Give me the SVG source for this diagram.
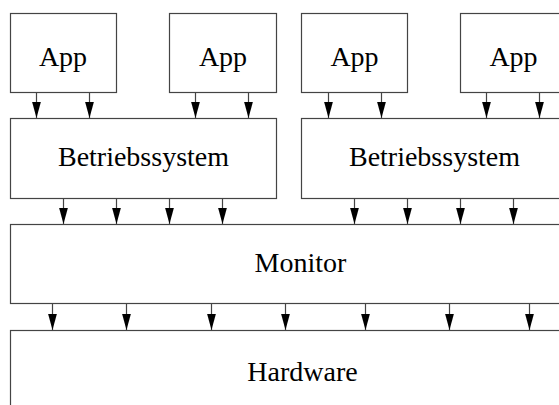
<svg xmlns="http://www.w3.org/2000/svg" width="559" height="405" viewBox="0 0 559 405">
  <style>
    .box { fill: #fff; stroke: #444; stroke-width: 1.2; }
    .lbl { font-family: "Liberation Serif", "Times New Roman", "DejaVu Serif", serif; font-size: 28px; fill: #000; text-anchor: middle; }
    .conn line { stroke: #444; stroke-width: 1.2; marker-end: url(#arrow); }
  </style>
  <defs>
    <!-- filled arrowhead pointing along the line direction -->
    <marker id="arrow" markerUnits="userSpaceOnUse" markerWidth="17" markerHeight="10" viewBox="0 0 17 10" refX="16.5" refY="5" orient="auto">
      <path d="M0 0.5 L16.5 5 L0 9.5 Z" fill="#000"/>
    </marker>
  </defs>
  <rect width="559" height="405" fill="#fff"/>

  <!-- layer: hardware -->
  <g id="hardware">
    <rect class="box" x="10.5" y="330.5" width="590" height="100"/>
    <text class="lbl" x="302.5" y="381">Hardware</text>
  </g>

  <!-- layer: monitor -->
  <g id="monitor">
    <rect class="box" x="10.5" y="224.5" width="582" height="79"/>
    <text class="lbl" x="300.5" y="272">Monitor</text>
  </g>

  <!-- operating systems -->
  <g id="os1">
    <rect class="box" x="10.5" y="118.5" width="266" height="80"/>
    <text class="lbl" x="143.5" y="166">Betriebssystem</text>
  </g>
  <g id="os2">
    <rect class="box" x="301.5" y="118.5" width="266" height="80"/>
    <text class="lbl" x="434.5" y="166">Betriebssystem</text>
  </g>

  <!-- applications -->
  <g id="app1">
    <rect class="box" x="10.5" y="13.5" width="106" height="79"/>
    <text class="lbl" x="63" y="66">App</text>
  </g>
  <g id="app2">
    <rect class="box" x="169.5" y="13.5" width="107" height="79"/>
    <text class="lbl" x="223" y="66">App</text>
  </g>
  <g id="app3">
    <rect class="box" x="301.5" y="13.5" width="106" height="79"/>
    <text class="lbl" x="354.5" y="66">App</text>
  </g>
  <g id="app4">
    <rect class="box" x="460.5" y="13.5" width="107" height="79"/>
    <text class="lbl" x="513.5" y="66">App</text>
  </g>

  <!-- connectors -->
  <g id="connectors" class="conn">
    <!-- apps to operating systems -->
    <line x1="36.5" y1="93" x2="36.5" y2="118"/>
    <line x1="89.5" y1="93" x2="89.5" y2="118"/>
    <line x1="195.5" y1="93" x2="195.5" y2="118"/>
    <line x1="248.5" y1="93" x2="248.5" y2="118"/>
    <line x1="328.5" y1="93" x2="328.5" y2="118"/>
    <line x1="381.5" y1="93" x2="381.5" y2="118"/>
    <line x1="486.5" y1="93" x2="486.5" y2="118"/>
    <line x1="539.5" y1="93" x2="539.5" y2="118"/>
    <!-- operating systems to monitor -->
    <line x1="63.5" y1="199" x2="63.5" y2="224"/>
    <line x1="116.5" y1="199" x2="116.5" y2="224"/>
    <line x1="169.5" y1="199" x2="169.5" y2="224"/>
    <line x1="222.5" y1="199" x2="222.5" y2="224"/>
    <line x1="354.5" y1="199" x2="354.5" y2="224"/>
    <line x1="407.5" y1="199" x2="407.5" y2="224"/>
    <line x1="460.5" y1="199" x2="460.5" y2="224"/>
    <line x1="513.5" y1="199" x2="513.5" y2="224"/>
    <!-- monitor to hardware -->
    <line x1="52.5" y1="304" x2="52.5" y2="330"/>
    <line x1="126.5" y1="304" x2="126.5" y2="330"/>
    <line x1="211.5" y1="304" x2="211.5" y2="330"/>
    <line x1="285.5" y1="304" x2="285.5" y2="330"/>
    <line x1="365.5" y1="304" x2="365.5" y2="330"/>
    <line x1="449.5" y1="304" x2="449.5" y2="330"/>
    <line x1="529.5" y1="304" x2="529.5" y2="330"/>
  </g>
</svg>
